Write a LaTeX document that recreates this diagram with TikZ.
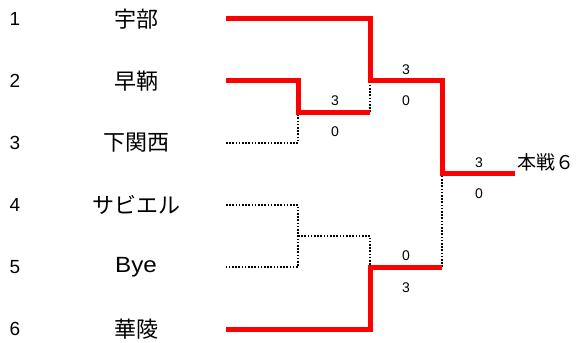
\documentclass[tikz,border=0pt]{standalone}
\usepackage{fontspec}
\setmainfont{Liberation Sans}
\newfontfamily\jpfont{Noto Sans CJK JP}
\begin{document}
\begin{tikzpicture}[x=1pt,y=-1pt,
  win/.style={draw=red,line width=5pt,line join=miter},
  lose/.style={draw=black,line width=1.6pt,dash pattern=on 1.6pt off 1.6pt},
  seed/.style={font=\fontsize{19}{21}\selectfont},
  team/.style={font=\jpfont\fontsize{22}{24}\selectfont},
  score/.style={font=\fontsize{14}{16}\selectfont}]
\useasboundingbox (0,0) rectangle (577,342);
% seeds
\foreach \i/\yy in {1/19,2/81,3/143,4/205,5/267,6/329}
  \node[seed] (s\i) at (15,\yy) {\i};
% team names
\node[team] (t1) at (136,19) {宇部};
\node[team] (t2) at (136,81) {早鞆};
\node[team] (t3) at (136,143) {下関西};
\node[team] (t4) at (136,205) {サビエル};
\node[font=\fontsize{22}{24}\selectfont,xscale=1.1] (t5) at (136,267) {Bye};
\node[team] (t6) at (136,329) {華陵};
% bracket points
\coordinate (a1) at (226,19);
\coordinate (a2) at (226,81);
\coordinate (a3) at (226,143);
\coordinate (a4) at (226,205);
\coordinate (a5) at (226,267);
\coordinate (a6) at (226,329);
\coordinate (m23) at (298,112);
\coordinate (m45) at (298,236);
\coordinate (q1) at (370,81);
\coordinate (q2) at (370,267);
\coordinate (f) at (442,173);
\coordinate (w) at (515,173);
% losing paths
\draw[lose] (a3) -| (m23);
\draw[lose] (a4) -| (m45) |- (a5);
\draw[lose] (m45) -| (q2);
\draw[lose] (m23 -| q1) -- (q1);
\draw[lose] (q2 -| f) -- (f);
% winning paths
\draw[win] (a2) -| (m23) -- (m23 -| q1);
\draw[win] (a1) -| (q1) -| (f) -- (w);
\draw[win] (a6) -| (q2) -- (q2 -| f);
% scores
\node[score] (c1) at (335,101) {3};
\node[score] (c2) at (335,132) {0};
\node[score] (c3) at (406,70) {3};
\node[score] (c4) at (406,101) {0};
\node[score] (c5) at (406,256) {0};
\node[score] (c6) at (406,288) {3};
\node[score] (c7) at (479,163) {3};
\node[score] (c8) at (479,194) {0};
% result
\node[anchor=west,inner sep=0pt,font=\jpfont\fontsize{19}{21}\selectfont] (res) at (517,162) {本戦６};
\end{tikzpicture}
\end{document}
